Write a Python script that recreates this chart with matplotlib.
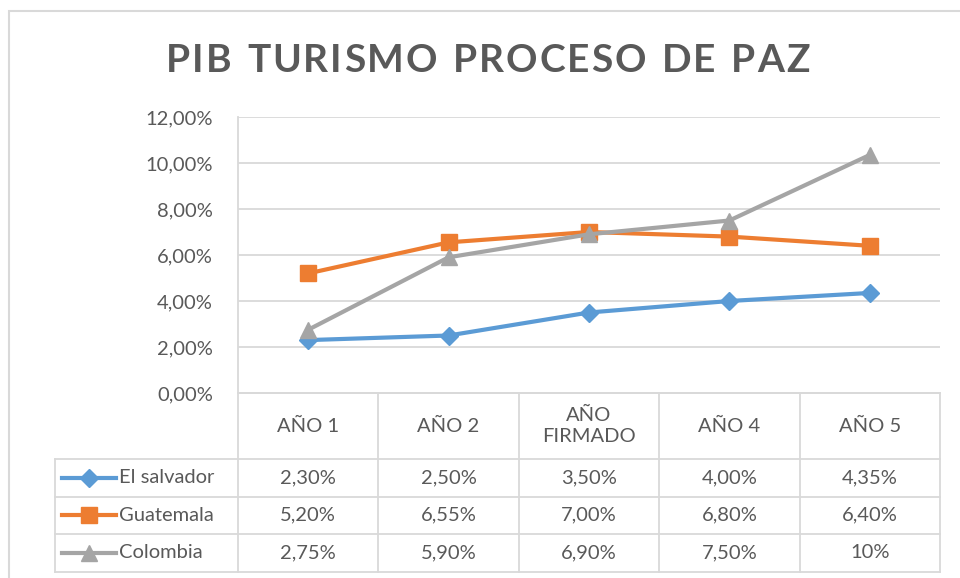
import matplotlib
matplotlib.use("Agg")
import matplotlib.pyplot as plt
from matplotlib.lines import Line2D
from matplotlib.patches import Rectangle

# data
categories = ["AÑO 1", "AÑO 2", "AÑO\nFIRMADO", "AÑO 4", "AÑO 5"]
series_names = ["El salvador", "Guatemala", "Colombia"]
el_salvador = [2.30, 2.50, 3.50, 4.00, 4.35]
guatemala = [5.20, 6.55, 7.00, 6.80, 6.40]
colombia = [2.75, 5.90, 6.90, 7.50, 10.35]
el_salvador_labels = ["2,30%", "2,50%", "3,50%", "4,00%", "4,35%"]
guatemala_labels = ["5,20%", "6,55%", "7,00%", "6,80%", "6,40%"]
colombia_labels = ["2,75%", "5,90%", "6,90%", "7,50%", "10%"]
yticks = [0, 2, 4, 6, 8, 10, 12]
title = "PIB TURISMO PROCESO DE PAZ"

series = [el_salvador, guatemala, colombia]
labels = [el_salvador_labels, guatemala_labels, colombia_labels]
colors = ["#5B9BD5", "#ED7D31", "#A5A5A5"]
markers = ["D", "s", "^"]
msizes = [9, 11, 11]

W, H = 960, 578
txt = "#595959"
grid = "#D9D9D9"
fs = 14.5
plt.rcParams["font.family"] = ["Lato", "DejaVu Sans"]

fig = plt.figure(figsize=(W / 100, H / 100), dpi=100)

# outer chart border
fig.patches.append(Rectangle((9 / W, 1 - 600 / H), 960 / W, (600 - 11) / H,
                             transform=fig.transFigure, fill=False,
                             edgecolor=grid, lw=1.5))

left, right, top, bottom = 238, 940, 117, 393
ax = fig.add_axes([left / W, 1 - bottom / H, (right - left) / W, (bottom - top) / H])
x = list(range(len(categories)))
for s, c, m, ms in zip(series, colors, markers, msizes):
    ax.plot(x, s, color=c, lw=3, marker=m, markersize=ms, zorder=3, clip_on=False)

ax.set_xlim(-0.5, len(categories) - 0.5)
ax.set_ylim(0, 12)
ax.set_yticks(yticks)
ax.set_yticklabels([f"{v:.2f}".replace(".", ",") + "%" for v in yticks])
ax.set_xticks([])
ax.tick_params(axis="y", length=0, pad=18, labelsize=fs, labelcolor=txt)
ax.grid(axis="y", color=grid, lw=1.3)
ax.set_axisbelow(True)
for sp in ["top", "right"]:
    ax.spines[sp].set_visible(False)
for sp in ["left", "bottom"]:
    ax.spines[sp].set_color(grid)
    ax.spines[sp].set_linewidth(1.3)

# data table below the plot
tl, tb = 55, 572
colw = (right - left) / len(categories)
tx = fig.add_axes([tl / W, 1 - tb / H, (right - tl) / W, (tb - bottom) / H])
xl = -0.5 - (left - tl) / colw
tx.set_xlim(xl, len(categories) - 0.5)
tx.set_ylim(tb - bottom, 0)
tx.axis("off")

rows = [0, 66, 103.5, 141, tb - bottom]
for i, yb in enumerate(rows):
    x0 = -0.5 if i == 0 else xl
    tx.plot([x0, len(categories) - 0.5], [yb, yb], color=grid, lw=1.3, clip_on=False)
for i in range(len(categories) + 1):
    tx.plot([i - 0.5, i - 0.5], [0, rows[-1]], color=grid, lw=1.3, clip_on=False)
tx.plot([xl, xl], [rows[1], rows[-1]], color=grid, lw=1.3, clip_on=False)

for i, cat in enumerate(categories):
    tx.text(i, 33, cat, ha="center", va="center", fontsize=fs, color=txt, linespacing=1.3)

for r, (name, c, m, ms, lab) in enumerate(zip(series_names, colors, markers, msizes, labels)):
    yc = (rows[r + 1] + rows[r + 2]) / 2
    xa = xl + (62 - tl) / colw
    xb = xl + (116 - tl) / colw
    tx.add_line(Line2D([xa, xb], [yc, yc], color=c, lw=3, clip_on=False))
    tx.plot([(xa + xb) / 2], [yc], marker=m, color=c, markersize=ms, clip_on=False)
    tx.text(xl + (119 - tl) / colw, yc, name, ha="left", va="center", fontsize=fs, color=txt)
    for i, t in enumerate(lab):
        tx.text(i, yc, t, ha="center", va="center", fontsize=fs, color=txt)

# title with letter spacing (drawn char by char)
r = fig.canvas.get_renderer()
tfs = 28
spacing = 2.0
widths = []
for ch in title:
    t = fig.text(0, 0, ch if ch != " " else "I", fontsize=tfs, fontweight="bold")
    widths.append(t.get_window_extent(r).width)
    t.remove()
total = sum(widths) + spacing * (len(title) - 1)
xp = 488 - total / 2
for ch, w in zip(title, widths):
    if ch != " ":
        fig.text(xp / W, 1 - 60 / H, ch, ha="left", va="center",
                 fontsize=tfs, fontweight="bold", color=txt)
    xp += w + spacing

fig.savefig("out.png", dpi=100)
